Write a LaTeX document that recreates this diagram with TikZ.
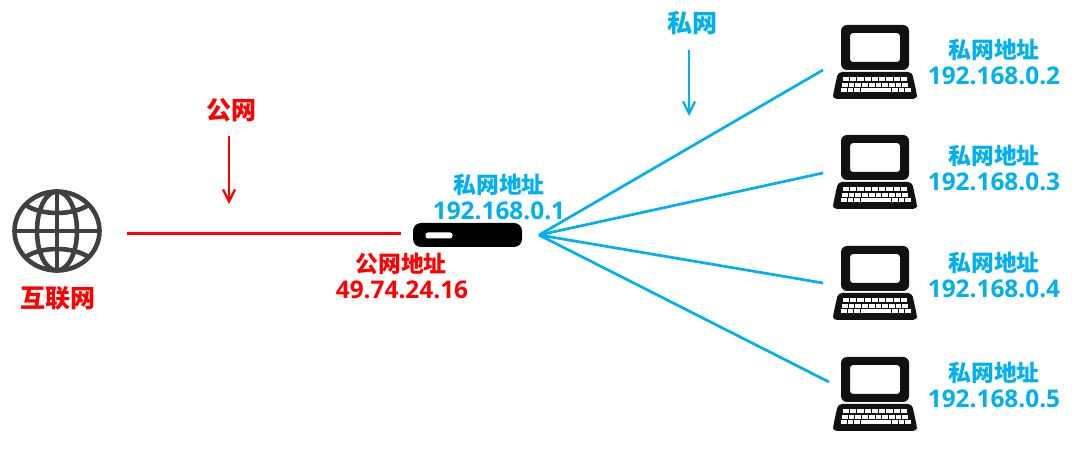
\documentclass[tikz,border=0pt]{standalone}
\usepackage{fontspec}
\setmainfont{Open Sans}
\newfontfamily\cjk{Noto Sans CJK SC}
\usetikzlibrary{arrows.meta}
\definecolor{netred}{RGB}{255,0,0}
\definecolor{netblue}{RGB}{0,176,240}
\definecolor{globegray}{RGB}{64,64,64}
\definecolor{pcblack}{RGB}{17,17,17}
\tikzset{
  redline/.style={netred,line width=2.7pt},
  blueline/.style={netblue,line width=2.7pt},
  redarrow/.style={netred,line width=2.3pt,-{Straight Barb[length=12pt,width=12pt,line width=2.3pt]}},
  bluearrow/.style={netblue,line width=2.3pt,-{Straight Barb[length=12pt,width=12pt,line width=2.3pt]}},
  cjklbl/.style={inner sep=0pt,font=\fontsize{22.8}{26}\selectfont\cjk\bfseries},
  cjkbig/.style={inner sep=0pt,font=\fontsize{25}{28}\selectfont\cjk\bfseries},
  numlbl/.style={inner sep=0pt,font=\fontsize{24.4}{28}\selectfont\bfseries},
  laptop/.pic={
    \fill[pcblack,even odd rule,rounded corners=6pt] (8,0) rectangle (76,45)
      [rounded corners=3pt] (17,8) rectangle (67,37);
    \fill[pcblack,rounded corners=4pt] (5,47) -- (79,47) -- (84,70) -- (84,74) -- (0,74) -- (0,70) -- cycle;
    \foreach \yy/\xa/\xb/\n in {52.5/9.5/74.5/9,58/8.5/75.5/10}{
      \pgfmathsetmacro{\stp}{(\xb-\xa)/\n}
      \foreach \i in {1,...,\n}{
        \fill[white] ({\xa+(\i-1)*\stp+0.5},\yy) rectangle ({\xa+\i*\stp-0.5},\yy+4);
      }
    }
    \foreach \xa in {8,14.5,21,59,65.5,72}{
      \fill[white] (\xa,63.5) rectangle (\xa+5.5,67.5);
    }
    \fill[white] (27.5,63.5) rectangle (58,67.5);
  }
}
\begin{document}
\begin{tikzpicture}[x=1pt,y=-1pt]
\useasboundingbox (0,0) rectangle (1080,454);
\fill[white] (0,0) rectangle (1080,454);

% globe
\begin{scope}[globegray,line width=4.6pt]
  \draw (57,231) circle[x radius=42.5,y radius=39.5];
  \draw (57,231) ellipse[x radius=20,y radius=39.5];
  \draw (57,191.5) -- (57,270.5);
  \draw (14.5,231) -- (99.5,231);
  \draw (24,204) .. controls (40,216) and (74,216) .. (90,204);
  \draw (24,258) .. controls (40,246) and (74,246) .. (90,258);
\end{scope}

% router
\node[fill=black,rounded corners=8pt,minimum width=109pt,minimum height=24pt,inner sep=0pt] (router) at (467.5,235) {};
\node[fill=white,rounded corners=2.5pt,minimum width=27pt,minimum height=6pt,inner sep=0pt] (slot) at (439,235.5) {};

% laptops
\pic at (833,25) {laptop};
\pic at (833,135) {laptop};
\pic at (833,246) {laptop};
\pic at (833,357) {laptop};

% connector anchors
\coordinate (net) at (127,233.5);
\coordinate (wan) at (401,233.5);
\coordinate (hub) at (539,235);
\coordinate (pc2) at (823,70);
\coordinate (pc3) at (823,173);
\coordinate (pc4) at (823,283);
\coordinate (pc5) at (829,382);
\coordinate (ra) at (229,136);
\coordinate (rb) at (229,204);
\coordinate (ba) at (689,50);
\coordinate (bb) at (689,116);

\draw[redline] (net) -- (wan);
\foreach \p in {pc2,pc3,pc4,pc5} \draw[blueline] (hub) -- (\p);
\draw[redarrow] (ra) -- (rb);
\draw[bluearrow] (ba) -- (bb);

% labels
\node[cjkbig,text=netred] (inet) at (58,298) {互联网};
\node[cjkbig,text=netred] (pub) at (231,110) {公网};
\node[cjkbig,text=netblue] (pri) at (692,23) {私网};
\node[cjklbl,text=netblue] (rl1) at (499,185) {私网地址};
\node[numlbl,text=netblue] (rl2) at (499,211) {192.168.0.1};
\node[cjklbl,text=netred] (wl1) at (401,264) {公网地址};
\node[numlbl,text=netred] (wl2) at (402,290) {49.74.24.16};
\foreach \yy/\t in {50/2,156/3,263/4,373/5}{
  \node[cjklbl,text=netblue] at (994,\yy) {私网地址};
  \node[numlbl,text=netblue] at (994,\yy+26) {192.168.0.\t};
}
\end{tikzpicture}
\end{document}
